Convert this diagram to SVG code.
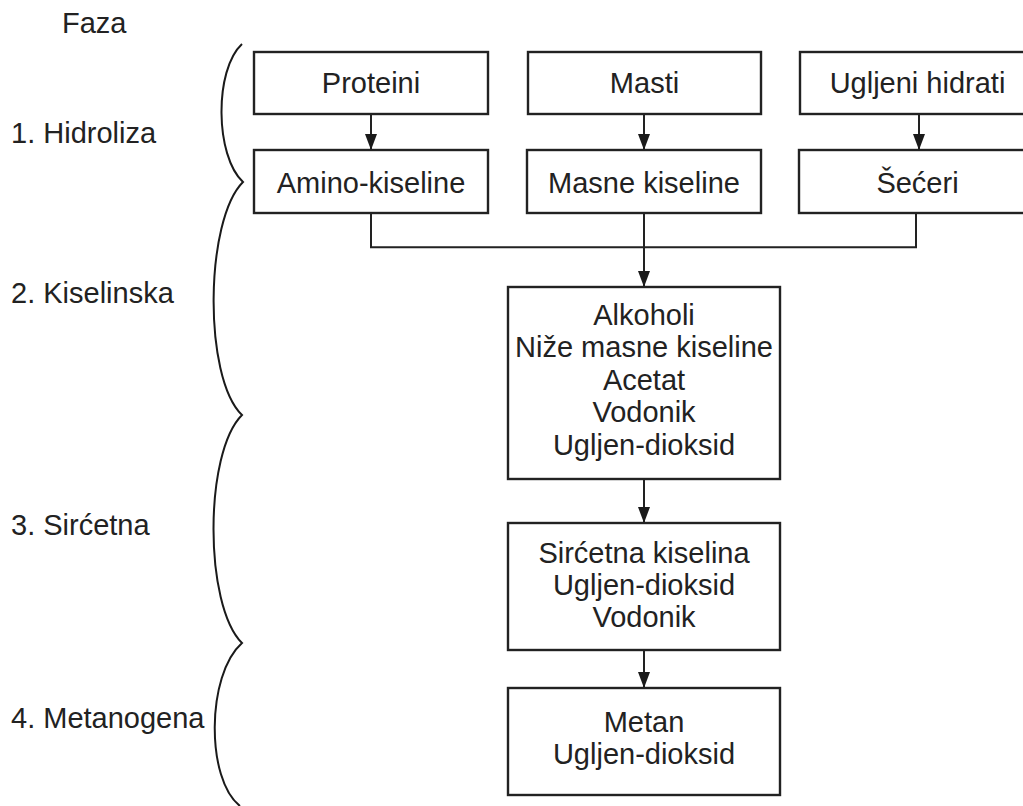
<svg xmlns="http://www.w3.org/2000/svg" width="1023" height="806" viewBox="0 0 1023 806">
  <style>
    text { font-family: "Liberation Sans", Arial, sans-serif; font-size: 29px; fill: #222; }
    .c { text-anchor: middle; }
    .box { fill: #fff; stroke: #222; stroke-width: 2.4; }
    .wire { fill: none; stroke: #222; stroke-width: 2; }
    .brace { fill: none; stroke: #1a1a1a; stroke-width: 2; stroke-linejoin: miter; }
  </style>
  <defs>
    <marker id="arrow" viewBox="0 0 12 16" refX="6" refY="16" markerWidth="12" markerHeight="16" markerUnits="userSpaceOnUse" orient="0">
      <path d="M0,0 L12,0 L6,16 Z" fill="#1a1a1a"/>
    </marker>
  </defs>
  <rect width="1023" height="806" fill="#fff"/>

  <!-- phase labels -->
  <g id="phases">
    <text x="62" y="33">Faza</text>
    <text x="11" y="142.5">1. Hidroliza</text>
    <text x="11" y="303">2. Kiselinska</text>
    <text x="11" y="535">3. Sirćetna</text>
    <text x="11" y="728">4. Metanogena</text>
  </g>

  <!-- braces grouping each phase -->
  <g id="braces">
    <path class="brace" d="M242,44 C214,70 215,156 243,182 C205,220 203,377 242,415 C204,453 204,605 242,643 C206,675 206,780 240,806"/>
  </g>

  <!-- connectors -->
  <g id="connectors">
    <line class="wire" x1="371" y1="114" x2="371" y2="150" marker-end="url(#arrow)"/>
    <line class="wire" x1="644" y1="114" x2="644" y2="150" marker-end="url(#arrow)"/>
    <line class="wire" x1="919" y1="114" x2="919" y2="150" marker-end="url(#arrow)"/>
    <path class="wire" d="M371,213 V247.3 H916 V213"/>
    <line class="wire" x1="644" y1="213" x2="644" y2="287" marker-end="url(#arrow)"/>
    <line class="wire" x1="644" y1="479" x2="644" y2="523" marker-end="url(#arrow)"/>
    <line class="wire" x1="644" y1="650" x2="644" y2="688" marker-end="url(#arrow)"/>
  </g>

  <g id="proteini">
    <rect class="box" x="254" y="52" width="234" height="62"/>
    <text class="c" x="371" y="93">Proteini</text>
  </g>
  <g id="masti">
    <rect class="box" x="528" y="52" width="233" height="62"/>
    <text class="c" x="644.5" y="93">Masti</text>
  </g>
  <g id="ugljeni-hidrati">
    <rect class="box" x="800" y="52" width="236" height="62"/>
    <text class="c" x="917.5" y="93">Ugljeni hidrati</text>
  </g>
  <g id="amino-kiseline">
    <rect class="box" x="254" y="150" width="234" height="63"/>
    <text class="c" x="371" y="192.5">Amino-kiseline</text>
  </g>
  <g id="masne-kiseline">
    <rect class="box" x="527" y="150" width="234" height="63"/>
    <text class="c" x="644" y="192.5">Masne kiseline</text>
  </g>
  <g id="seceri">
    <rect class="box" x="799" y="150" width="237" height="63"/>
    <text class="c" x="917.5" y="192.5">Šećeri</text>
  </g>
  <g id="kiselinska-produkti">
    <rect class="box" x="508" y="287" width="272" height="192"/>
    <text class="c" x="644" y="325">Alkoholi</text>
    <text class="c" x="644" y="357.4">Niže masne kiseline</text>
    <text class="c" x="644" y="389.8">Acetat</text>
    <text class="c" x="644" y="422.2">Vodonik</text>
    <text class="c" x="644" y="454.6">Ugljen-dioksid</text>
  </g>
  <g id="sircetna-produkti">
    <rect class="box" x="508" y="523" width="272" height="127"/>
    <text class="c" x="644" y="562.7">Sirćetna kiselina</text>
    <text class="c" x="644" y="595">Ugljen-dioksid</text>
    <text class="c" x="644" y="627.3">Vodonik</text>
  </g>
  <g id="metanogena-produkti">
    <rect class="box" x="508" y="688" width="272" height="107"/>
    <text class="c" x="644" y="731.7">Metan</text>
    <text class="c" x="644" y="764">Ugljen-dioksid</text>
  </g>
</svg>
